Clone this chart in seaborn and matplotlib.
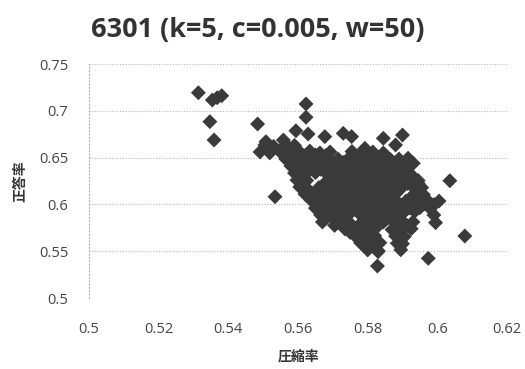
import matplotlib
matplotlib.use("Agg")
import matplotlib.pyplot as plt
import seaborn as sns
import pandas as pd
from matplotlib.ticker import FixedLocator

title = "6301 (k=5, c=0.005, w=50)"
x_label = "圧縮率"
y_label = "正答率"
x_ticks = [0.5, 0.52, 0.54, 0.56, 0.58, 0.6, 0.62]
x_tick_labels = ["0.5", "0.52", "0.54", "0.56", "0.58", "0.6", "0.62"]
y_ticks = [0.5, 0.55, 0.6, 0.65, 0.7, 0.75]
y_tick_labels = ["0.5", "0.55", "0.6", "0.65", "0.7", "0.75"]

# outlying / edge points
compression_edge = [0.5314, 0.5354, 0.5381, 0.5368, 0.5347, 0.5359, 0.5484, 0.5623, 0.5623,
                    0.5594, 0.5629, 0.5677, 0.5730, 0.5754, 0.5845, 0.5900, 0.5880, 0.5792,
                    0.5508, 0.5558, 0.5534, 0.6036, 0.6079, 0.5974, 0.5828, 0.5931, 0.5916,
                    0.5830, 0.5897]
accuracy_edge = [0.7193, 0.7115, 0.7161, 0.7140, 0.6884, 0.6688, 0.6859, 0.7073, 0.6931,
                 0.6787, 0.6752, 0.6724, 0.6759, 0.6724, 0.6706, 0.6741, 0.6635, 0.6599,
                 0.6670, 0.6688, 0.6082, 0.6253, 0.5662, 0.5424, 0.5342, 0.6439, 0.6493,
                 0.5495, 0.5585]

# dense cluster, read row by row
compression_core = [
    0.5505, 0.5530, 0.5565, 0.5590,
    0.5491, 0.5519, 0.5548, 0.5577, 0.5605, 0.5634, 0.5663, 0.5692, 0.5755, 0.5785, 0.5815, 0.5845,
    0.5565, 0.5595, 0.5625, 0.5655, 0.5685, 0.5715, 0.5745, 0.5775, 0.5805, 0.5835, 0.5865, 0.5890,
    0.5580, 0.5608, 0.5637, 0.5666, 0.5695, 0.5724, 0.5752, 0.5781, 0.5810, 0.5838, 0.5867, 0.5896, 0.5915,
    0.5590, 0.5620, 0.5650, 0.5680, 0.5710, 0.5740, 0.5770, 0.5800, 0.5830, 0.5860, 0.5890, 0.5915,
    0.5597, 0.5625, 0.5690, 0.5718, 0.5747, 0.5776, 0.5805, 0.5834, 0.5862, 0.5891, 0.5920, 0.5945,
    0.5605, 0.5660, 0.5690, 0.5720, 0.5750, 0.5780, 0.5810, 0.5840, 0.5870, 0.5900, 0.5930, 0.5955,
    0.5620, 0.5648, 0.5677, 0.5706, 0.5735, 0.5764, 0.5793, 0.5822, 0.5851, 0.5880, 0.5935, 0.5960,
    0.5640, 0.5670, 0.5700, 0.5730, 0.5760, 0.5790, 0.5820, 0.5850, 0.5880, 0.5910, 0.5940, 0.5975, 0.6005,
    0.5650, 0.5680, 0.5710, 0.5740, 0.5770, 0.5800, 0.5830, 0.5860, 0.5890, 0.5920, 0.5950, 0.5980,
    0.5665, 0.5695, 0.5725, 0.5780, 0.5810, 0.5840, 0.5870, 0.5895, 0.5990,
    0.5670, 0.5720, 0.5745, 0.5785, 0.5815, 0.5845, 0.5875, 0.5900, 0.5930, 0.5995,
    0.5735, 0.5760, 0.5790, 0.5815, 0.5870, 0.5895, 0.5925,
    0.5765, 0.5790, 0.5820, 0.5880, 0.5905,
    0.5780, 0.5808, 0.5835, 0.5885, 0.5900,
    0.5800, 0.5830, 0.5895,
]
accuracy_core = (
    [0.6635, 0.6620, 0.6640, 0.6630]
    + [0.6560, 0.6550, 0.6565, 0.6555, 0.6560, 0.6570, 0.6550, 0.6560, 0.6565, 0.6555, 0.6560, 0.6550]
    + [0.6485, 0.6480, 0.6490, 0.6485, 0.6475, 0.6485, 0.6490, 0.6480, 0.6485, 0.6490, 0.6480, 0.6485]
    + [0.6410, 0.6405, 0.6415, 0.6410, 0.6400, 0.6410, 0.6415, 0.6410, 0.6405, 0.6410, 0.6415, 0.6410, 0.6400]
    + [0.6335, 0.6330, 0.6340, 0.6335, 0.6325, 0.6335, 0.6340, 0.6335, 0.6330, 0.6335, 0.6340, 0.6330]
    + [0.6260, 0.6255, 0.6265, 0.6260, 0.6250, 0.6260, 0.6265, 0.6260, 0.6255, 0.6260, 0.6265, 0.6255]
    + [0.6186, 0.6180, 0.6190, 0.6186, 0.6175, 0.6186, 0.6190, 0.6186, 0.6180, 0.6186, 0.6190, 0.6180]
    + [0.6110, 0.6105, 0.6115, 0.6110, 0.6100, 0.6110, 0.6115, 0.6110, 0.6105, 0.6110, 0.6115, 0.6105]
    + [0.6036, 0.6030, 0.6040, 0.6036, 0.6025, 0.6036, 0.6040, 0.6036, 0.6030, 0.6036, 0.6040, 0.6030, 0.6036]
    + [0.5960, 0.5955, 0.5965, 0.5960, 0.5950, 0.5960, 0.5965, 0.5960, 0.5955, 0.5960, 0.5965, 0.5955]
    + [0.5887, 0.5880, 0.5890, 0.5887, 0.5880, 0.5887, 0.5890, 0.5885, 0.5887]
    + [0.5812, 0.5805, 0.5815, 0.5812, 0.5805, 0.5812, 0.5815, 0.5810, 0.5812, 0.5805]
    + [0.5737, 0.5730, 0.5740, 0.5737, 0.5730, 0.5737, 0.5740]
    + [0.5662, 0.5655, 0.5665, 0.5662, 0.5655]
    + [0.5588, 0.5580, 0.5590, 0.5585, 0.5580]
    + [0.5513, 0.5505, 0.5515]
)

# points between the rows of the dense cluster
compression_fill = [
    0.5592, 0.5620, 0.5650, 0.5680, 0.5770, 0.5800, 0.5850,
    0.5580, 0.5610, 0.5640, 0.5670, 0.5700, 0.5730, 0.5760, 0.5790, 0.5820, 0.5850, 0.5880,
    0.5605, 0.5635, 0.5665, 0.5695, 0.5725, 0.5755, 0.5785, 0.5815, 0.5845, 0.5875, 0.5905,
    0.5610, 0.5700, 0.5730, 0.5760, 0.5790, 0.5820, 0.5850, 0.5880, 0.5905, 0.5930,
    0.5615, 0.5675, 0.5705, 0.5735, 0.5765, 0.5795, 0.5825, 0.5855, 0.5885, 0.5915, 0.5945,
    0.5632, 0.5662, 0.5692, 0.5722, 0.5752, 0.5782, 0.5812, 0.5842, 0.5870, 0.5945,
    0.5635, 0.5662, 0.5692, 0.5722, 0.5752, 0.5782, 0.5812, 0.5842, 0.5872, 0.5925, 0.5955,
    0.5655, 0.5685, 0.5715, 0.5745, 0.5775, 0.5805, 0.5835, 0.5865, 0.5895, 0.5925, 0.5960, 0.5990,
    0.5665, 0.5695, 0.5725, 0.5755, 0.5785, 0.5815, 0.5845, 0.5875, 0.5905, 0.5935,
    0.5680, 0.5710, 0.5795, 0.5825, 0.5855, 0.5885,
    0.5705, 0.5745, 0.5775, 0.5800, 0.5830, 0.5885, 0.5912,
    0.5750, 0.5778, 0.5805, 0.5890,
    0.5775, 0.5800, 0.5895,
]
accuracy_fill = (
    [0.6523, 0.6520, 0.6528, 0.6523, 0.6520, 0.6525, 0.6523]
    + [0.6448, 0.6445, 0.6450, 0.6448, 0.6444, 0.6448, 0.6452, 0.6448, 0.6445, 0.6448, 0.6450]
    + [0.6373, 0.6370, 0.6375, 0.6373, 0.6368, 0.6373, 0.6377, 0.6373, 0.6370, 0.6373, 0.6375]
    + [0.6298, 0.6295, 0.6300, 0.6298, 0.6293, 0.6298, 0.6302, 0.6298, 0.6295, 0.6298]
    + [0.6223, 0.6220, 0.6225, 0.6223, 0.6218, 0.6223, 0.6227, 0.6223, 0.6220, 0.6223, 0.6225]
    + [0.6148, 0.6145, 0.6150, 0.6148, 0.6143, 0.6148, 0.6152, 0.6148, 0.6145, 0.6148]
    + [0.6073, 0.6070, 0.6075, 0.6073, 0.6068, 0.6073, 0.6077, 0.6073, 0.6070, 0.6073, 0.6075]
    + [0.5999, 0.5995, 0.6002, 0.5999, 0.5994, 0.5999, 0.6003, 0.5999, 0.5995, 0.5999, 0.6002, 0.5999]
    + [0.5925, 0.5922, 0.5927, 0.5925, 0.5920, 0.5925, 0.5929, 0.5925, 0.5922, 0.5925]
    + [0.5850, 0.5847, 0.5852, 0.5850, 0.5846, 0.5850]
    + [0.5775, 0.5772, 0.5777, 0.5775, 0.5771, 0.5775, 0.5778]
    + [0.5700, 0.5697, 0.5702, 0.5700]
    + [0.5625, 0.5622, 0.5627]
)

df = pd.DataFrame({
    "compression": compression_edge + compression_core + compression_fill,
    "accuracy": accuracy_edge + list(accuracy_core) + list(accuracy_fill),
})

sns.set_theme(style="white")
plt.rcParams['font.family'] = ['Open Sans', 'Noto Sans CJK JP', 'DejaVu Sans']

fig = plt.figure(figsize=(5.25, 3.69), dpi=100)
ax = fig.add_axes([89/525, 1 - 298/369, (507 - 89)/525, (298 - 64)/369])

for yv in y_ticks:
    ax.axhline(yv, color="#b8b8b8", linestyle=(0, (1, 1.5)), linewidth=0.8, zorder=0)

sns.scatterplot(data=df, x="compression", y="accuracy", marker="D", s=58,
                color="#3a3a3a", edgecolor="none", linewidth=0, ax=ax, zorder=3)

ax.set_xlim(0.5, 0.62)
ax.set_ylim(0.5, 0.75)
ax.xaxis.set_major_locator(FixedLocator(x_ticks))
ax.yaxis.set_major_locator(FixedLocator(y_ticks))
ax.set_xticklabels(x_tick_labels, fontsize=10.5, color="#444444")
ax.set_yticklabels(y_tick_labels, fontsize=10.5, color="#444444")

for s in ["top", "right", "bottom"]:
    ax.spines[s].set_visible(False)
ax.spines["left"].set_color("#b0b0b0")
ax.spines["left"].set_linestyle((0, (1, 2)))
ax.spines["left"].set_linewidth(0.8)

ax.tick_params(axis="x", length=3, width=0.6, color="#c0c0c0", pad=14)
ax.tick_params(axis="y", length=3, width=0.6, color="#c0c0c0", pad=12)

ax.set_xlabel(x_label, fontsize=10, fontweight="bold", color="#333333",
              family=['Noto Sans CJK JP', 'DejaVu Sans'], labelpad=9)
ax.set_ylabel(y_label, fontsize=10, fontweight="bold", color="#333333",
              family=['Noto Sans CJK JP', 'DejaVu Sans'], labelpad=8)

fig.text(258/525, 1 - 30/369, title, ha="center", va="center", fontsize=19.5,
         fontweight="bold", color="#333333", family=['Open Sans', 'DejaVu Sans'])

fig.savefig("out.png", dpi=100)
